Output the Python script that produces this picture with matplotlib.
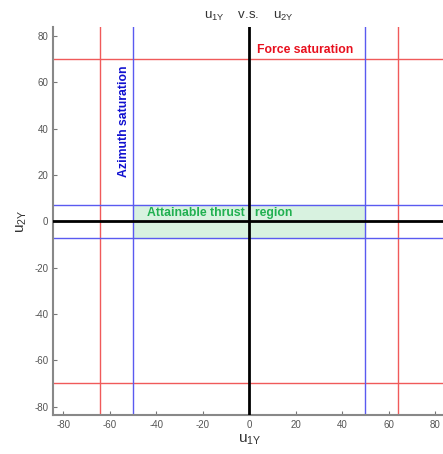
import numpy as np
import matplotlib.pyplot as plt

plt.rcParams['font.family'] = ['Liberation Sans', 'DejaVu Sans']
plt.rcParams['mathtext.default'] = 'regular'
plt.rcParams['axes.unicode_minus'] = False

# saturation limits
force_lim = 64      # u1Y force saturation (vertical red lines)
force_lim_y = 70    # u2Y force saturation (horizontal red lines)
azi_lim = 50        # azimuth saturation on u1Y (vertical blue lines)
azi_lim_y = 7       # azimuth saturation on u2Y (horizontal blue lines)
ticks = [-80, -60, -40, -20, 0, 20, 40, 60, 80]

fig = plt.figure(figsize=(4.43, 4.54), dpi=100)
ax = fig.add_axes([0.12, 0.086, 0.885, 0.855])

ax.fill_between([-azi_lim, azi_lim], -azi_lim_y, azi_lim_y, color='#d8f2e0', zorder=1)

for v in [-force_lim, force_lim]:
    ax.axvline(v, color='#f05a5a', lw=1, zorder=2)
for v in [-force_lim_y, force_lim_y]:
    ax.axhline(v, color='#f05a5a', lw=1, zorder=2)
for v in [-azi_lim, azi_lim]:
    ax.axvline(v, color='#5a5af0', lw=1, zorder=2)
for v in [-azi_lim_y, azi_lim_y]:
    ax.axhline(v, color='#5a5af0', lw=1, zorder=2)

ax.axvline(0, color='black', lw=2, zorder=3)
ax.axhline(0, color='black', lw=2, zorder=3)

ax.text(3.5, 74, 'Force saturation', color='#e8101e', fontsize=8.8, fontweight='bold',
        va='center', ha='left', zorder=4)
ax.text(-54, 43, 'Azimuth saturation', color='#1010d0', fontsize=8.8, fontweight='bold',
        rotation=90, va='center', ha='center', zorder=4)
ax.text(-44, 3.8, 'Attainable thrust   region', color='#20b050', fontsize=8.8, fontweight='bold',
        va='center', ha='left', zorder=4)

ax.set_xlim(-84.3, 84.3)
ax.set_ylim(-83.6, 84)
ax.set_xticks(ticks)
ax.set_yticks(ticks)
ax.tick_params(direction='in', length=3, colors='#777777', labelsize=7, labelcolor='#555555')
for s in ['top', 'right']:
    ax.spines[s].set_visible(False)
for s in ['left', 'bottom']:
    ax.spines[s].set_color('#888888')
    ax.spines[s].set_linewidth(1.5)

ax.set_xlabel('u$_{1Y}$', fontsize=11, color='#333333', labelpad=2)
ax.set_ylabel('u$_{2Y}$', fontsize=11, color='#333333', labelpad=4)
ax.set_title('u$_{1Y}$    v.s.    u$_{2Y}$', fontsize=9.5, color='#333333', pad=6)

fig.savefig('out.png', dpi=100)
